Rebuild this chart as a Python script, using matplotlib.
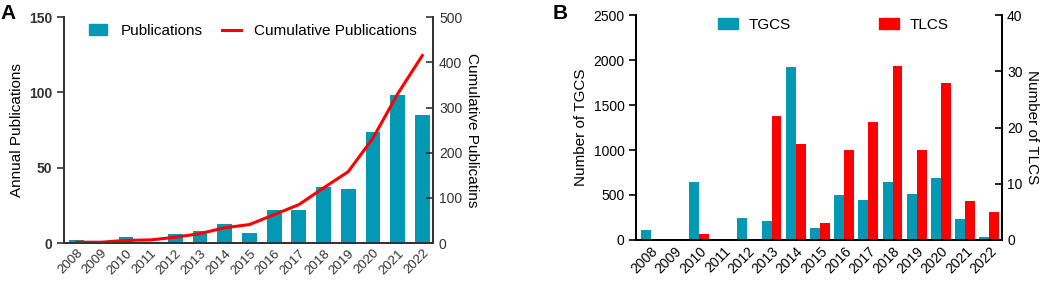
import numpy as np
import matplotlib.pyplot as plt
from matplotlib.patches import Patch
from matplotlib.lines import Line2D

plt.rcParams['font.family'] = ['Liberation Sans', 'DejaVu Sans']

years = ['2008', '2009', '2010', '2011', '2012', '2013', '2014', '2015',
         '2016', '2017', '2018', '2019', '2020', '2021', '2022']
publications = [2, 0, 4, 1, 6, 8, 13, 7, 22, 22, 37, 36, 74, 98, 85]
cumulative = np.cumsum(publications)
tgcs = [115, 0, 645, 0, 241, 211, 1925, 130, 500, 445, 642, 511, 685, 233, 30]
tlcs = [0, 0, 1, 0, 0, 22, 17, 3, 16, 21, 31, 16, 28, 7, 5]

teal = '#0399b4'
red = '#ff0000'

fig = plt.figure(figsize=(10.52, 2.85), dpi=100)

# Panel A
ax1 = fig.add_axes([0.061, 0.147, 0.351, 0.793])
x = np.arange(len(years))
ax1.bar(x, publications, width=0.6, color=teal)
ax1.set_xlim(-0.5, 14.45)
ax1.set_ylim(0, 150)
ax1.set_yticks([0, 50, 100, 150])
ax1.set_xticks(x)
ax1.set_xticklabels(years, rotation=45, ha='right', rotation_mode='anchor', fontsize=9.5)
ax1.set_ylabel('Annual Publications', fontsize=11, labelpad=4)
for lab in ax1.get_yticklabels():
    lab.set_fontweight('bold')
ax1.tick_params(axis='y', direction='out', length=5, width=1.2, labelsize=10, colors='#333333')
ax1.tick_params(axis='x', length=0, pad=3, labelcolor='#333333')
ax1.spines['top'].set_visible(False)
for s in ['left', 'bottom', 'right']:
    ax1.spines[s].set_linewidth(1.3)
    ax1.spines[s].set_color('#333333')

ax1r = ax1.twinx()
ax1r.plot(x, cumulative, color=red, lw=2.2)
ax1r.set_ylim(0, 500)
ax1r.set_yticks([0, 100, 200, 300, 400, 500])
ax1r.tick_params(axis='y', direction='in', length=5, width=1.2, labelsize=10, pad=4, colors='#333333')
ax1r.set_ylabel('Cumulative Publicatins', fontsize=11, rotation=270, labelpad=12)
ax1r.spines['top'].set_visible(False)
for s in ['left', 'bottom', 'right']:
    ax1r.spines[s].set_linewidth(1.3)
    ax1r.spines[s].set_color('#333333')

handles = [Patch(color=teal), Line2D([0], [0], color=red, lw=2.2)]
ax1.legend(handles, ['Publications', 'Cumulative Publications'], ncol=2, frameon=False,
           loc='upper left', bbox_to_anchor=(0.03, 1.03), fontsize=11,
           handlelength=1.2, handletextpad=0.9, columnspacing=1.25)
fig.text(0.0, 0.985, 'A', fontsize=15, fontweight='bold', va='top', ha='left')

# Panel B
ax2 = fig.add_axes([0.605, 0.158, 0.347, 0.789])
w = 0.41
ax2.bar(x - w / 2, tgcs, width=w, color=teal)
ax2.set_xlim(-0.58, 14.5)
ax2.set_ylim(0, 2500)
ax2.set_yticks([0, 500, 1000, 1500, 2000, 2500])
ax2.set_xticks(x)
ax2.set_xticklabels(years, rotation=45, ha='right', rotation_mode='anchor', fontsize=10)
ax2.set_ylabel('Number of TGCS', fontsize=11, labelpad=4)
ax2.tick_params(axis='y', direction='out', length=5, width=1.2, labelsize=10)
ax2.tick_params(axis='x', length=0, pad=3)
ax2.spines['top'].set_visible(False)
for s in ['left', 'bottom', 'right']:
    ax2.spines[s].set_linewidth(1.3)

ax2r = ax2.twinx()
ax2r.bar(x + w / 2, tlcs, width=w, color=red)
ax2r.set_ylim(0, 40)
ax2r.set_yticks([0, 10, 20, 30, 40])
ax2r.tick_params(axis='y', direction='in', length=5, width=1.2, labelsize=10, pad=4)
ax2r.set_ylabel('Number of TLCS', fontsize=11, rotation=270, labelpad=12)
ax2r.spines['top'].set_visible(False)
for s in ['left', 'bottom', 'right']:
    ax2r.spines[s].set_linewidth(1.3)

handles = [Patch(color=teal), Patch(color=red)]
ax2r.legend(handles, ['TGCS', 'TLCS'], ncol=2, frameon=False,
            loc='upper left', bbox_to_anchor=(0.185, 1.05), fontsize=11,
            handlelength=1.3, handletextpad=0.7, columnspacing=5.8)
fig.text(0.525, 0.985, 'B', fontsize=15, fontweight='bold', va='top', ha='left')

fig.savefig('out.png', dpi=100)
